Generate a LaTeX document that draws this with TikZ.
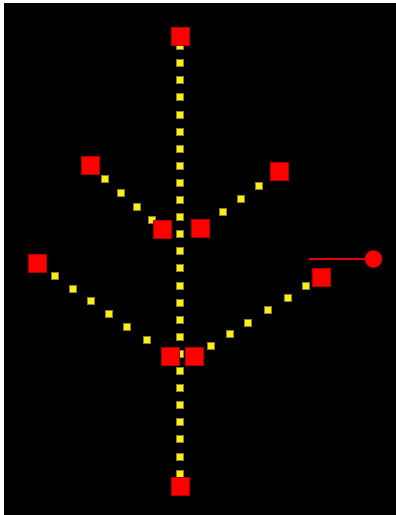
\documentclass[tikz,border=0pt]{standalone}
\usetikzlibrary{calc}
\begin{document}
\begin{tikzpicture}[x=1pt,y=-1pt,
  redsq/.style={rectangle,draw=red!70!black,fill=red,line width=0.8pt,minimum size=18pt,inner sep=0pt,outer sep=0pt},
  ydot/.style={rectangle,draw=yellow!45!black,fill=yellow,line width=0.8pt,minimum size=7pt,inner sep=0pt,outer sep=0pt},
  knob/.style={circle,fill=red,draw=red!80!black,line width=0.5pt,minimum size=17pt,inner sep=0pt,outer sep=0pt},
  wire/.style={draw=red!90!black,line width=2pt}]
\useasboundingbox (0,0) rectangle (396,515);
\fill[white] (0,0) rectangle (396,515);
\fill[black] (4,3) rectangle (396,515);
% red node positions
\coordinate (Tc) at (180,36);
\coordinate (Bc) at (180,486);
\coordinate (Ac) at (90,165);
\coordinate (Bbc) at (162,229);
\coordinate (Cc) at (200,228.5);
\coordinate (Dc) at (279,171);
\coordinate (Ec) at (37,263);
\coordinate (Fc) at (170,356.5);
\coordinate (Gc) at (194,356.5);
\coordinate (Hc) at (321,277);
% dots
\foreach \k in {0,...,25} \node[ydot] (v\k) at (180,46+17.1*\k) {};
\foreach \t [count=\i] in {0.213,0.43,0.65,0.86} \node[ydot] (ul\i) at ($(Ac)!\t!(Bbc)$) {};
\foreach \t [count=\i] in {0.287,0.515,0.743} \node[ydot] (ur\i) at ($(Cc)!\t!(Dc)$) {};
\foreach \t [count=\i] in {0.138,0.273,0.408,0.544,0.679,0.827} \node[ydot] (ll\i) at ($(Ec)!\t!(Fc)$) {};
\foreach \t [count=\i] in {0.131,0.286,0.428,0.585,0.743,0.885} \node[ydot] (lr\i) at ($(Gc)!\t!(Hc)$) {};
% red squares
\node[redsq] (top) at (Tc) {};
\node[redsq] (bottom) at (Bc) {};
\node[redsq] (a) at (Ac) {};
\node[redsq] (b) at (Bbc) {};
\node[redsq] (c) at (Cc) {};
\node[redsq] (d) at (Dc) {};
\node[redsq] (e) at (Ec) {};
\node[redsq] (f) at (Fc) {};
\node[redsq] (g) at (Gc) {};
\node[redsq] (h) at (Hc) {};
% red handle
\coordinate (wstart) at (308.5,259);
\node[knob] (k) at (373.5,259) {};
\draw[wire] (wstart) -- (k);
\end{tikzpicture}
\end{document}
